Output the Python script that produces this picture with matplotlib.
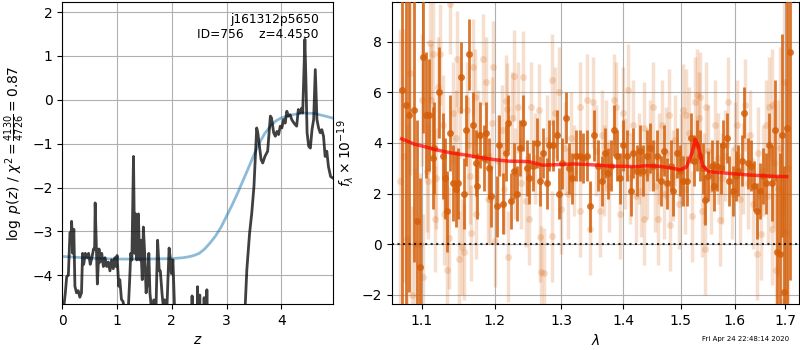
import matplotlib

matplotlib.use("Agg")
import matplotlib.pyplot as plt
from matplotlib.ticker import NullLocator

# --- p(z) panel ---------------------------------------------------------
z_grid = [0.02, 0.055, 0.08, 0.11, 0.14, 0.16, 0.17, 0.19, 0.21, 0.23, 0.26,
          0.29, 0.32, 0.35, 0.37, 0.39, 0.42, 0.46, 0.48, 0.51, 0.54, 0.57,
          0.59, 0.60, 0.62, 0.64, 0.67, 0.69, 0.72, 0.75, 0.78, 0.81, 0.84,
          0.87, 0.90, 0.93, 0.96, 0.98, 1.00, 1.03, 1.05, 1.08, 1.11, 1.15,
          1.20, 1.23, 1.25, 1.27, 1.30, 1.32, 1.34, 1.36, 1.39, 1.41, 1.43,
          1.46, 1.48, 1.51, 1.53, 1.55, 1.58, 1.60, 1.63, 1.67, 1.71, 1.74,
          1.77, 1.79, 1.82, 1.85, 1.87, 1.91, 1.95, 1.97, 1.99, 2.02, 2.04,
          2.07, 2.20, 2.36, 2.37, 2.38, 2.46, 2.47, 2.48, 2.50, 2.51, 2.52,
          2.58, 2.59, 2.60, 2.63, 2.64, 2.65, 2.90, 3.20, 3.34, 3.37, 3.42,
          3.46, 3.50, 3.55, 3.57, 3.63, 3.66, 3.70, 3.75, 3.80, 3.82, 3.86,
          3.89, 3.92, 3.95, 3.98, 4.01, 4.04, 4.07, 4.10, 4.13, 4.16, 4.19,
          4.22, 4.25, 4.28, 4.31, 4.34, 4.37, 4.39, 4.43, 4.45, 4.47, 4.50,
          4.53, 4.56, 4.59, 4.62, 4.65, 4.68, 4.71, 4.74, 4.77, 4.80, 4.83,
          4.86, 4.90, 4.95]
log_pz = [-4.8, -4.4, -4.03, -4.0, -3.03, -3.1, -2.77, -3.5, -2.95, -4.25,
          -4.4, -4.35, -4.5, -4.4, -3.5, -3.75, -3.5, -3.6, -3.5, -3.75,
          -3.6, -3.4, -3.4, -2.35, -3.3, -4.2, -3.4, -3.7, -3.5, -3.8, -3.6,
          -3.8, -3.7, -3.9, -3.65, -3.85, -3.6, -3.8, -3.55, -4.25, -4.1,
          -4.55, -4.6, -4.9, -4.9, -4.1, -3.5, -3.65, -1.29, -3.5, -2.6,
          -3.65, -2.6, -3.65, -3.2, -4.1, -2.9, -3.65, -4.4, -4.2, -3.5,
          -4.4, -4.8, -4.56, -4.8, -3.2, -3.9, -3.9, -4.4, -4.8, -4.56,
          -4.75, -3.38, -3.6, -3.96, -3.65, -4.4, -5.5, -6.0, -5.5, -4.47,
          -5.5, -5.4, -4.26, -5.4, -5.4, -4.45, -5.4, -5.4, -4.51, -5.4,
          -5.4, -4.33, -5.5, -6.5, -7.0, -4.7, -3.87, -3.04, -2.58, -1.97,
          -0.64, -0.75, -1.36, -1.44, -1.29, -1.17, -0.37, -0.41, -0.75,
          -0.83, -0.72, -0.79, -0.6, -0.64, -0.45, -0.53, -0.26, -0.37,
          -0.34, -0.45, -0.51, -0.56, -0.6, -0.22, -0.3, -0.19, -0.3, 1.38,
          0.39, -0.75, -1.06, -1.1, -0.68, -0.45, 0.69, -0.45, -0.64, -0.75,
          -0.68, -0.83, -1.29, -1.17, -1.52, -1.75, -1.79]

z_prior = [0.0, 0.5, 1.0, 1.5, 2.0, 2.2, 2.3, 2.4, 2.5, 2.6, 2.7, 2.8, 2.9,
           3.0, 3.1, 3.2, 3.3, 3.4, 3.5, 3.6, 3.7, 3.8, 3.9, 4.0, 4.2, 4.4,
           4.6, 4.8, 4.95]
log_prior = [-3.57, -3.61, -3.63, -3.63, -3.62, -3.60, -3.58, -3.55, -3.5,
             -3.4, -3.26, -3.1, -2.9, -2.65, -2.4, -2.13, -1.84, -1.55,
             -1.25, -0.98, -0.76, -0.6, -0.48, -0.41, -0.34, -0.30, -0.31,
             -0.37, -0.42]

# --- spectrum panel -----------------------------------------------------
wave_a = [1.0736, 1.0791, 1.0834, 1.0899, 1.0938, 1.0974, 1.1017, 1.1049,
          1.1093, 1.1142, 1.1163, 1.1231, 1.1276, 1.1308, 1.1339, 1.1380,
          1.1421, 1.1453, 1.1489, 1.1527, 1.1568, 1.1600, 1.1642, 1.1690,
          1.1732, 1.1754, 1.1797, 1.1845, 1.1881, 1.1916, 1.1953, 1.2039,
          1.2068, 1.2117, 1.2161, 1.2199, 1.2234, 1.2282, 1.2323, 1.2371,
          1.2420, 1.2471, 1.2510, 1.2561, 1.2621, 1.2671, 1.2721, 1.2773,
          1.2813, 1.2874, 1.2927, 1.2967, 1.3014, 1.3067, 1.3119, 1.3171,
          1.3225, 1.3293, 1.3346, 1.3410, 1.3454, 1.3519, 1.3588, 1.3643,
          1.3697, 1.3751, 1.3796, 1.3846, 1.3891, 1.3946, 1.3991, 1.4058,
          1.4126, 1.4170, 1.4228, 1.4284, 1.4341, 1.4400, 1.4457, 1.4514,
          1.4573, 1.4643, 1.4701, 1.4759, 1.4819, 1.4866, 1.4927, 1.4986,
          1.5045, 1.5107, 1.5180, 1.5240, 1.5289, 1.5350, 1.5400, 1.5442,
          1.5503, 1.5566, 1.5609, 1.5660, 1.5735, 1.5784, 1.5849, 1.5898,
          1.5963, 1.6021, 1.6071, 1.6137, 1.6187, 1.6253, 1.6318, 1.6363,
          1.6429, 1.6481, 1.6548, 1.6613, 1.6667, 1.6727, 1.6793, 1.6840,
          1.6894, 1.6929, 1.6975, 1.7043, 1.7098]
flux_a = [6.1, 5.5, 5.1, 5.3, 0.9, -0.9, 7.4, 5.1, 5.1, 3.4, 3.8, 6.0, 3.5,
          2.6, 1.3, 4.4, 2.4, 2.2, 2.4, 6.6, 2.0, 4.5, 7.5, 4.7, 3.2, 2.3,
          4.3, 3.4, 4.4, 3.0, 1.9, 1.5, 3.9, 1.6, 3.6, 4.8, 1.7, 2.9, 2.0,
          3.8, 4.8, 3.0, 2.6, 3.1, 4.0, 2.5, 3.6, 2.4, 3.9, 3.9, 4.3, 2.0,
          3.2, 5.0, 3.0, 2.6, 3.5, 3.5, 3.4, 3.5, 1.5, 4.3, 3.1, 2.5, 3.6,
          2.8, 3.1, 4.5, 3.5, 2.6, 3.9, 3.5, 2.1, 3.6, 2.9, 3.7, 2.9, 3.5,
          3.8, 3.1, 3.5, 2.5, 3.7, 2.4, 3.1, 2.1, 3.6, 2.9, 2.5, 2.5, 4.2,
          3.3, 3.9, 3.5, 3.0, 1.75, 2.7, 3.1, 2.3, 3.1, 3.0, 3.9, 4.2, 2.5,
          2.1, 2.7, 2.9, 3.3, 5.2, 3.2, 3.1, 2.3, 1.3, 2.1, 2.7, 2.4, 3.9,
          2.4, 4.5, -0.3, -0.4, 4.3, -1.9, 4.6, 7.6]
err_a = [9.0, 8.0, 7.0, 6.0, 4.0, 3.5, 3.0, 2.5, 2.2, 2.0, 1.8, 1.8, 1.7,
         1.6, 1.6, 1.5, 1.5, 1.5, 1.4, 1.4, 1.4, 1.4, 1.4, 1.3, 1.3, 1.3,
         1.3, 1.3, 1.2, 1.2, 1.2, 1.2, 1.2, 1.2, 1.1, 1.1, 1.1, 1.1, 1.1,
         1.1, 1.1, 1.1, 1.0, 1.0, 1.0, 1.0, 1.0, 1.0, 1.0, 1.0, 1.0, 1.0,
         1.0, 1.0, 1.0, 1.0, 1.0, 1.0, 1.0, 1.0, 1.0, 1.0, 1.0, 1.0, 1.0,
         1.0, 1.0, 1.0, 1.0, 1.0, 1.0, 1.0, 1.0, 1.0, 1.0, 1.0, 1.0, 1.0,
         1.0, 1.0, 1.0, 1.0, 1.0, 1.0, 1.0, 1.0, 1.0, 1.0, 1.0, 1.0, 1.0,
         1.0, 1.0, 1.0, 1.0, 1.0, 1.0, 1.0, 1.0, 1.0, 1.0, 1.0, 1.0, 1.0,
         1.0, 1.0, 1.0, 1.0, 1.0, 1.0, 1.0, 1.0, 1.1, 1.1, 1.1, 1.2, 1.3,
         1.5, 2.0, 3.0, 4.0, 4.0, 5.0, 7.0, 9.0]

wave_b = [1.0715, 1.0760, 1.0805, 1.0843, 1.0870, 1.0910, 1.0977, 1.1005,
          1.1020, 1.1060, 1.1075, 1.1106, 1.1120, 1.1150, 1.1170, 1.1190,
          1.1210, 1.1240, 1.1280, 1.1290, 1.1337, 1.1360, 1.1377, 1.1420,
          1.1460, 1.1475, 1.1500, 1.1510, 1.1545, 1.1570, 1.1610, 1.1625,
          1.1650, 1.1665, 1.1700, 1.1715, 1.1735, 1.1760, 1.1830, 1.1880,
          1.1905, 1.1940, 1.1960, 1.1975, 1.2000, 1.2050, 1.2100, 1.2140,
          1.2160, 1.2185, 1.2200, 1.2250, 1.2280, 1.2300, 1.2340, 1.2380,
          1.2420, 1.2460, 1.2510, 1.2540, 1.2590, 1.2650, 1.2670, 1.2685,
          1.2730, 1.2770, 1.2850, 1.2855, 1.2900, 1.2960, 1.3000, 1.3050,
          1.3100, 1.3150, 1.3200, 1.3290, 1.3300, 1.3400, 1.3450, 1.3500,
          1.3550, 1.3620, 1.3640, 1.3680, 1.3720, 1.3760, 1.3840, 1.3870,
          1.3950, 1.4000, 1.4030, 1.4080, 1.4120, 1.4170, 1.4210, 1.4260,
          1.4300, 1.4350, 1.4360, 1.4410, 1.4450, 1.4500, 1.4540, 1.4590,
          1.4620, 1.4660, 1.4700, 1.4740, 1.4780, 1.4800, 1.4850, 1.4900,
          1.4960, 1.5000, 1.5040, 1.5080, 1.5100, 1.5150, 1.5200, 1.5250,
          1.5300, 1.5330, 1.5350, 1.5380, 1.5420, 1.5440, 1.5450, 1.5500,
          1.5560, 1.5620, 1.5680, 1.5710, 1.5760, 1.5820, 1.5880, 1.5940,
          1.6000, 1.6050, 1.6100, 1.6160, 1.6200, 1.6250, 1.6300, 1.6350,
          1.6430, 1.6460, 1.6510, 1.6550, 1.6600, 1.6650, 1.6670, 1.6720,
          1.6725, 1.6760, 1.6810, 1.6860, 1.6900, 1.6950, 1.6980, 1.7010,
          1.7060]
flux_b = [2.5, 3.5, 0.2, 6.75, -2.0, 0.0, 0.0, 5.7, -1.3, 2.9, 2.5, 7.95,
          5.7, 7.5, 1.0, 2.6, 6.2, 7.5, 4.7, 1.2, -1.0, 0.25, 9.5, 5.2, 4.2,
          7.3, -0.6, 5.3, -0.1, -0.3, 5.3, 3.9, 2.7, 0.45, 7.0, 5.8, 1.2,
          4.3, 7.3, 6.4, 1.8, 1.8, 4.8, 7.0, 0.13, 3.3, 4.5, 2.2, 5.67, 5.35,
          -0.5, 5.0, 6.65, 2.8, 5.4, 2.4, 6.6, 1.7, 1.0, 5.4, 3.4, 5.3, 0.3,
          -1.08, -1.15, 4.1, 6.5, 0.32, 5.2, 6.0, 1.4, 3.8, 2.0, 4.2, 2.9,
          5.4, 1.3, 5.7, 0.6, 5.6, 3.7, 1.3, 4.3, 2.9, 3.9, 2.3, 5.7, 5.4,
          1.2, 5.2, 3.2, 6.1, 2.6, 4.7, 1.9, 3.4, 2.1, 4.6, 0.98, 2.8, 3.9,
          5.4, 2.3, 1.0, 3.4, 4.7, 2.0, 3.6, 5.1, 0.75, 2.7, 4.1, 1.6, 3.4,
          5.3, 2.2, 5.1, 4.4, 1.1, 5.6, 5.9, 5.0, 5.8, 1.3, 2.6, -0.2, 5.4,
          3.7, 2.2, 4.7, 3.4, 0.95, 2.6, 3.5, 5.6, 2.0, 3.8, 4.7, 1.8, 3.0,
          5.5, 2.4, 4.3, 1.6, -0.4, 3.6, 0.4, 2.9, 4.7, 1.9, 5.4, 5.5, 0.6,
          3.2, -1.0, 2.2, 3.8, -2.3, 6.4, 0.5, 3.0]
err_b = [6.0, 5.0, 4.5, 4.0, 3.5, 3.0, 2.8, 2.6, 2.5, 2.4, 2.3, 2.2, 2.2,
         2.1, 2.1, 2.0, 2.0, 2.0, 2.0, 2.0, 2.0, 2.0, 2.0, 2.0, 1.9, 1.9,
         1.9, 1.9, 1.9, 1.9, 1.9, 1.9, 1.9, 1.9, 1.9, 1.9, 1.8, 1.8, 1.8,
         1.8, 1.8, 1.8, 1.8, 1.8, 1.8, 1.8, 1.8, 1.8, 1.8, 1.8, 1.8, 1.8,
         1.8, 1.8, 1.8, 1.8, 1.8, 1.8, 1.8, 1.8, 1.8, 1.8, 1.8, 1.8, 1.8,
         1.8, 1.8, 1.8, 1.8, 1.8, 1.8, 1.8, 1.8, 1.8, 1.8, 1.8, 1.8, 1.8,
         1.8, 1.8, 1.8, 1.8, 1.8, 1.8, 1.8, 1.8, 1.8, 1.8, 1.8, 1.8, 1.8,
         1.8, 1.8, 1.8, 1.8, 1.8, 1.8, 1.8, 1.8, 1.8, 1.8, 1.8, 1.8, 1.8,
         1.8, 1.8, 1.8, 1.8, 1.8, 1.8, 1.8, 1.8, 1.8, 1.8, 1.8, 1.8, 1.8,
         1.8, 1.8, 1.8, 1.8, 1.8, 1.8, 1.8, 1.8, 1.8, 1.8, 1.8, 1.8, 1.8,
         1.8, 1.8, 1.8, 1.8, 1.8, 1.8, 1.8, 1.8, 1.8, 1.8, 1.8, 1.8, 1.8,
         1.8, 1.8, 1.8, 1.8, 1.8, 1.8, 1.9, 2.0, 2.2, 2.2, 2.5, 3.0, 3.5,
         4.0, 4.5, 5.0, 6.0, 7.0]

wave_model = [1.0736, 1.08, 1.09, 1.10, 1.12, 1.14, 1.16, 1.18, 1.20, 1.22,
              1.24, 1.25, 1.26, 1.27, 1.28, 1.30, 1.32, 1.34, 1.36, 1.38,
              1.40, 1.42, 1.44, 1.46, 1.48, 1.4986, 1.51, 1.52, 1.526, 1.532,
              1.54, 1.55, 1.57, 1.60, 1.63, 1.66, 1.68, 1.7025]
flux_model = [4.16, 4.08, 3.95, 3.88, 3.72, 3.60, 3.52, 3.42, 3.34, 3.28,
              3.27, 3.26, 3.20, 3.12, 3.13, 3.15, 3.17, 3.15, 3.12, 3.08,
              3.08, 3.06, 3.10, 3.08, 3.02, 2.94, 3.05, 3.60, 4.15, 3.85,
              3.10, 2.87, 2.83, 2.78, 2.73, 2.70, 2.68, 2.67]

lam_ticks = [1.1, 1.2, 1.3, 1.4, 1.5, 1.6, 1.7]
orange = "#d45f0a"

fig = plt.figure(figsize=(8, 3.5), dpi=100)
ax1 = fig.add_axes([0.0779, 0.1314, 0.3388, 0.864])
ax2 = fig.add_axes([0.4896, 0.1314, 0.5096, 0.864])

# p(z)
ax1.plot(z_prior, log_prior, color="tab:blue", alpha=0.5, lw=2, zorder=2)
ax1.plot(z_grid, log_pz, color="k", alpha=0.75, lw=2, zorder=3)
ax1.set_xlim(0, 4.95)
ax1.set_ylim(-4.655, 2.24)
ax1.set_xticks([0, 1, 2, 3, 4])
ax1.set_yticks([-4, -3, -2, -1, 0, 1, 2])
ax1.grid(True)
ax1.set_xlabel(r"$z$")
ax1.set_ylabel(r"$\log\ p(z)$ / $\chi^2=\frac{4130}{4726}=0.87$")
ax1.text(0.947, 0.962, "j161312p5650\nID=756    z=4.4550",
         transform=ax1.transAxes, ha="right", va="top", fontsize=8.8)

# spectrum
ax2.errorbar(wave_b, flux_b, yerr=err_b, fmt="o", color=orange, alpha=0.2,
             ms=5, elinewidth=2.5, mew=0, zorder=2)
ax2.errorbar(wave_a, flux_a, yerr=err_a, fmt="o", color=orange, alpha=0.85,
             ms=5, elinewidth=2, mew=0, zorder=3)
ax2.plot(wave_model, flux_model, color="red", alpha=0.7, lw=2.5, zorder=4)
ax2.axhline(0, color="k", linestyle=":", lw=1.5, alpha=0.8, zorder=5)
ax2.set_xscale("log")
ax2.set_xticks(lam_ticks)
ax2.set_xticklabels([f"{t:.1f}" for t in lam_ticks])
ax2.xaxis.set_minor_locator(NullLocator())
ax2.set_xlim(1.0608, 1.7287)
ax2.set_ylim(-2.36, 9.58)
ax2.set_yticks([-2, 0, 2, 4, 6, 8])
ax2.grid(True)
ax2.set_xlabel(r"$\lambda$")
ax2.set_ylabel(r"$f_\lambda \times 10^{-19}$")

fig.text(0.986, 0.031, "Fri Apr 24 22:48:14 2020", ha="right", va="center",
         fontsize=5)

fig.savefig("out.png", dpi=100)
